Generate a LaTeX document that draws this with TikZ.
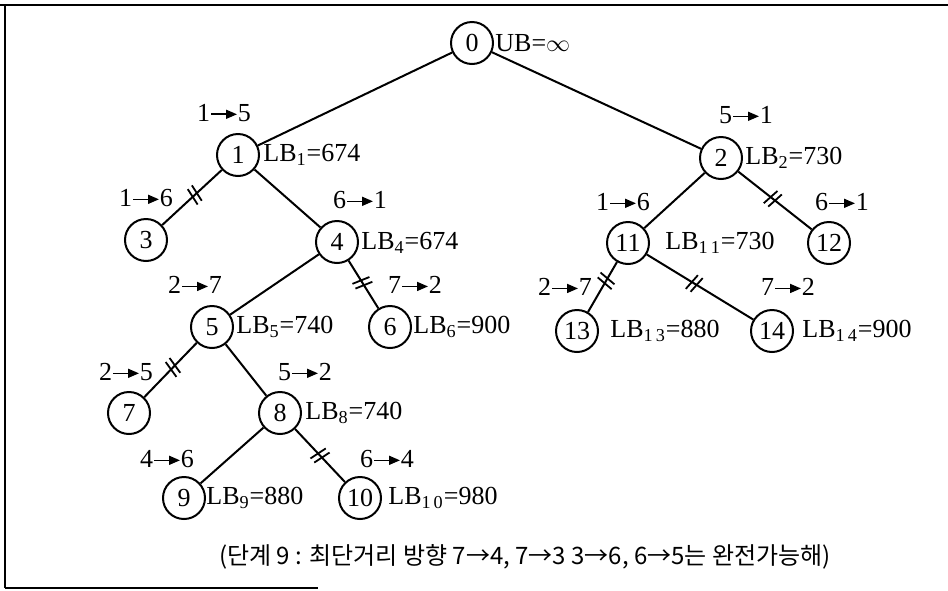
\documentclass[tikz,border=0pt]{standalone}
\usepackage{fontspec}
\setmainfont{Liberation Serif}
\newfontfamily\cjk{Noto Sans CJK KR}
\usetikzlibrary{arrows.meta,calc}

% arrow used inside the branching labels
\newcommand{\harr}{\tikz[baseline=-0.6ex,x=1pt,y=1pt]\draw[line width=0.8pt,-{Triangle[length=5.5pt,width=4.5pt]}] (0,0)--(13,0);}
% double stroke crossing a pruned branch
\newcommand{\cutmark}{\tikz[x=1pt,y=1pt,line width=0.9pt]{\draw (-0.8,-4.5)--(0.8,4.5) (2.0,-4.5)--(3.6,4.5);}}

\begin{document}
\begin{tikzpicture}[x=0.5pt,y=-0.5pt,
  st/.style={circle,draw,line width=1pt,minimum size=21pt,inner sep=0pt,font=\fontsize{13}{15}\selectfont},
  lb/.style={anchor=west,inner sep=0pt,font=\fontsize{13}{15}\selectfont},
  el/.style={inner sep=0pt,font=\fontsize{13}{15}\selectfont},
  br/.style={line width=1pt},
  cut/.style={sloped,inner sep=0pt}]
\useasboundingbox (0,0) rectangle (948,590);

% frame
\draw[line width=1.4pt] (0,5) -- (948,5);
\draw[line width=1pt] (5,5) -- (5,588);
\draw[line width=1.4pt] (5,588) -- (68,588);
\draw[line width=0.6pt] (68,588) -- (318,588);

% states
\node[st] (n0)  at (472,43)  {0};
\node[st] (n1)  at (238,155) {1};
\node[st] (n2)  at (721,158) {2};
\node[st] (n3)  at (146,240) {3};
\node[st] (n4)  at (337,242) {4};
\node[st] (n11) at (628,243) {11};
\node[st] (n12) at (829,243) {12};
\node[st] (n5)  at (212,327) {5};
\node[st] (n6)  at (390,327) {6};
\node[st] (n13) at (577,331) {13};
\node[st] (n14) at (772,331) {14};
\node[st] (n7)  at (129,413) {7};
\node[st] (n8)  at (280,413) {8};
\node[st] (n9)  at (184,498) {9};
\node[st] (n10) at (360,498) {10};

% bounds
\node[lb] (b0)  at (495,43)  {UB=$\infty$};
\node[lb] (b1)  at (263,155) {LB\textsubscript{1}=674};
\node[lb] (b2)  at (745,158) {LB\textsubscript{2}=730};
\node[lb] (b4)  at (361,243) {LB\textsubscript{4}=674};
\node[lb] (b11) at (665,243) {LB\textsubscript{1\,1}=730};
\node[lb] (b5)  at (236,327) {LB\textsubscript{5}=740};
\node[lb] (b6)  at (413,327) {LB\textsubscript{6}=900};
\node[lb] (b13) at (610,331) {LB\textsubscript{1\,3}=880};
\node[lb] (b14) at (802,331) {LB\textsubscript{1\,4}=900};
\node[lb] (b8)  at (305,413) {LB\textsubscript{8}=740};
\node[lb] (b9)  at (206,498) {LB\textsubscript{9}=880};
\node[lb] (b10) at (388,498) {LB\textsubscript{1\,0}=980};

% branching decisions
\node[el] (e1)  at (224,113) {1\harr5};
\node[el] (e2)  at (746,115) {5\harr1};
\node[el] (e3)  at (146,198) {1\harr6};
\node[el] (e4)  at (360,200) {6\harr1};
\node[el] (e11) at (623,202) {1\harr6};
\node[el] (e12) at (842,202) {6\harr1};
\node[el] (e5)  at (195,285) {2\harr7};
\node[el] (e6)  at (415,285) {7\harr2};
\node[el] (e13) at (565,287) {2\harr7};
\node[el] (e14) at (788,287) {7\harr2};
\node[el] (e7)  at (126,372) {2\harr5};
\node[el] (e8)  at (305,372) {5\harr2};
\node[el] (e9)  at (167,459) {4\harr6};
\node[el] (e10) at (387,459) {6\harr4};

% branches
\draw[br] (n0) -- (n1);
\draw[br] (n0) -- (n2);
\draw[br] (n1) -- (n3);
\draw[br] (n1) -- (n4);
\draw[br] (n2) -- (n11);
\draw[br] (n2) -- (n12);
\draw[br] (n4) -- (n5);
\draw[br] (n4) -- (n6);
\draw[br] (n11) -- (n13);
\draw[br] (n11) -- (n14);
\draw[br] (n5) -- (n7);
\draw[br] (n5) -- (n8);
\draw[br] (n8) -- (n9);
\draw[br] (n8) -- (n10);

% pruned branches
\path (n1.center)  -- node[cut,pos=0.47] (c3)  {\cutmark} (n3.center);
\path (n2.center)  -- node[cut,pos=0.48] (c12) {\cutmark} (n12.center);
\path (n4.center)  -- node[cut,pos=0.48] (c6)  {\cutmark} (n6.center);
\path (n5.center)  -- node[cut,pos=0.47] (c7)  {\cutmark} (n7.center);
\path (n11.center) -- node[cut,pos=0.43] (c13) {\cutmark} (n13.center);
\path (n11.center) -- node[cut,pos=0.46] (c14) {\cutmark} (n14.center);
\path (n8.center)  -- node[cut,pos=0.50] (c10) {\cutmark} (n10.center);

% caption
\node[inner sep=0pt,font=\cjk\fontsize{12}{14}\selectfont] (cap) at (525,557)
  {(단계 9 : 최단거리 방향 7→4, 7→3 3→6, 6→5는 완전가능해)};
\end{tikzpicture}
\end{document}
